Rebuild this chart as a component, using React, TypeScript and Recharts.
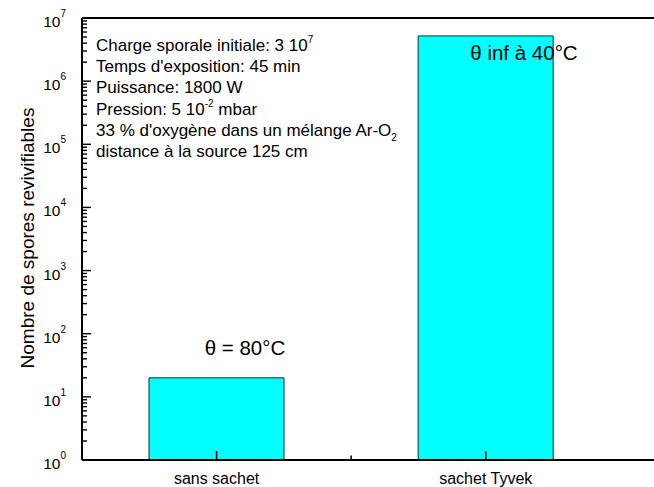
import React from "react";
import { BarChart, Bar, XAxis, YAxis, ReferenceLine } from "recharts";

const categories = ["sans sachet", "sachet Tyvek"];
const categoryPos = [1, 2];
const sporeCounts = [20, 5.2e6];
const barNotes = ["θ = 80°C", "θ inf à 40°C"];
const majorTicks = [1, 10, 100, 1e3, 1e4, 1e5, 1e6, 1e7];
const minorMultipliers = [2, 3, 4, 5, 6, 7, 8, 9];
const xTicks = [1, 1.5, 2];

const rows = categories.map((c, i) => ({ name: c, pos: categoryPos[i], value: sporeCounts[i] }));
const yTicks: number[] = [];
majorTicks.forEach((m, i) => {
  yTicks.push(m);
  if (i < majorTicks.length - 1) minorMultipliers.forEach((k) => yTicks.push(m * k));
});

const FONT = "'Liberation Sans', Arial, Helvetica, sans-serif";

const XTick = (props: any) => {
  const { x, y, payload } = props;
  const idx = categoryPos.indexOf(payload.value);
  const major = idx >= 0;
  return (
    <g>
      <line x1={x} x2={x} y1={y} y2={y - (major ? 9 : 4.5)} stroke="#000" strokeWidth={1.5} />
      {major && (
        <text x={x} y={y + 18} textAnchor="middle" dominantBaseline="central" fontFamily={FONT} fontSize={16} fill="#000">
          {categories[idx]}
        </text>
      )}
    </g>
  );
};

const YTick = (props: any) => {
  const { x, y, payload } = props;
  const v = payload.value;
  const e = Math.log10(v);
  const major = Math.abs(e - Math.round(e)) < 1e-9;
  return (
    <g>
      <line x1={x} x2={x + (major ? 9 : 5)} y1={y} y2={y} stroke="#000" strokeWidth={1.4} />
      {major && (
        <text x={x - 16} y={y + 9} textAnchor="end" fontFamily={FONT} fontSize={15.5} fill="#000">
          10
          <tspan fontSize={10} dy={-10}>{Math.round(e)}</tspan>
        </text>
      )}
    </g>
  );
};

export default function App() {
  return (
    <div style={{ position: "fixed", left: 0, top: 0, width: 654, height: 487, overflow: "hidden", background: "#fff" }}>
      <BarChart width={730} height={487} data={rows} margin={{ top: 18, right: 2, bottom: 0, left: 0 }}>
        <XAxis
          type="number"
          dataKey="pos"
          domain={[0.5, 2.9]}
          allowDataOverflow
          ticks={xTicks}
          interval={0}
          tickLine={false}
          tickSize={0}
          tickMargin={0}
          tick={(p: any) => <XTick {...p} />}
          axisLine={{ stroke: "#000", strokeWidth: 2 }}
          height={27}
        />
        <YAxis
          type="number"
          scale="log"
          domain={[1, 1e7]}
          allowDataOverflow
          ticks={yTicks}
          interval={0}
          tickLine={false}
          tickSize={0}
          tickMargin={0}
          tick={(p: any) => <YTick {...p} />}
          axisLine={{ stroke: "#000", strokeWidth: 2 }}
          width={82}
        />
        <ReferenceLine y={1e7} stroke="#000" strokeWidth={2} />
        <Bar dataKey="value" fill="#00FFFF" stroke="#0d2f2f" strokeWidth={1} barSize={135} isAnimationActive={false} />
      </BarChart>
      <svg width={654} height={487} style={{ position: "absolute", left: 0, top: 0, pointerEvents: "none" }}>
        <text transform="translate(34,238) rotate(-90)" textAnchor="middle" fontFamily={FONT} fontSize={19} fill="#000">
          Nombre de spores revivifiables
        </text>
        <g fontFamily={FONT} fontSize={17} fill="#000">
          <text x={96} y={50.5}>
            Charge sporale initiale: 3 10<tspan fontSize={10} dy={-8}>7</tspan>
          </text>
          <text x={96} y={72}>Temps d'exposition: 45 min</text>
          <text x={96} y={93.3}>Puissance: 1800 W</text>
          <text x={96} y={114.5}>
            Pression: 5 10<tspan fontSize={10} dy={-8}>-2</tspan>
            <tspan dy={8}> mbar</tspan>
          </text>
          <text x={96} y={135.5}>
            33 % d'oxygène dans un mélange Ar-O<tspan fontSize={10} dy={5}>2</tspan>
          </text>
          <text x={96} y={157}>distance à la source 125 cm</text>
        </g>
        <text x={245} y={355} textAnchor="middle" fontFamily={FONT} fontSize={20.5} fill="#000">{barNotes[0]}</text>
        <text x={524} y={60} textAnchor="middle" fontFamily={FONT} fontSize={20.5} fill="#000">{barNotes[1]}</text>
      </svg>
    </div>
  );
}
